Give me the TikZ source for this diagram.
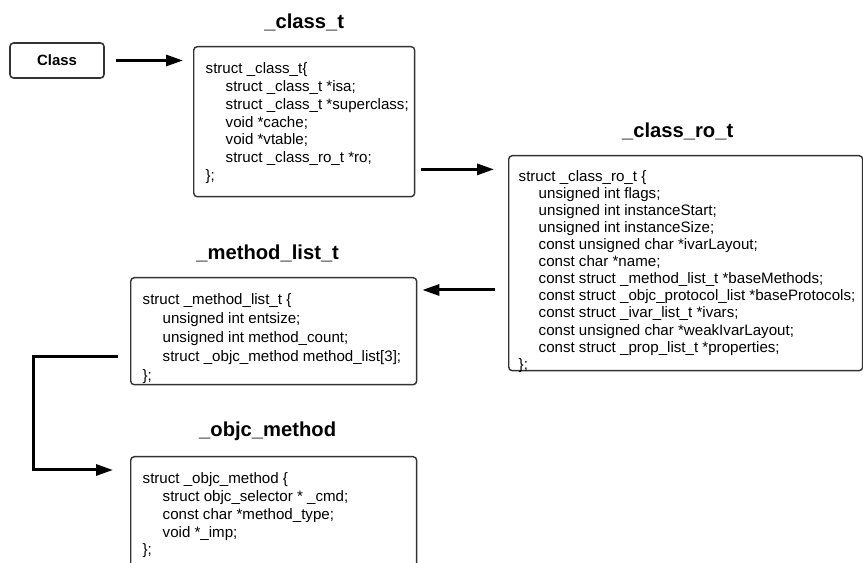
\documentclass[tikz,border=0pt]{standalone}
\usepackage{fontspec}
\setmainfont{Liberation Sans}
\usetikzlibrary{positioning,arrows.meta}

\tikzset{
    structbox/.style={draw=black!80, line width=0.8pt, rounded corners=2pt, anchor=north west,
        inner xsep=0.24cm, inner ysep=0.28cm, font=\fontsize{8.6}{10.2}\selectfont},
    structname/.style={inner sep=0pt, font=\fontsize{11.5}{13}\selectfont\bfseries},
    link/.style={line width=1.7pt, -{Triangle[length=0.34cm,width=0.22cm]}},
}
% fixed-size body of a struct box, lines kept on one row each
\newcommand{\fields}[3]{\parbox[c][#1][t]{#2}{\begin{tabular}{@{}l@{}}#3\end{tabular}}}
\newcommand{\fieldind}{\hspace*{0.4cm}}

\begin{document}
\begin{tikzpicture}[x=0.02cm, y=-0.02cm]
    \useasboundingbox (0,0) rectangle (863,563);

    % Nodes
    \node[draw=black!80, line width=0.9pt, rounded corners=2pt, minimum width=1.88cm, minimum height=0.7cm,
        font=\fontsize{8.5}{10}\selectfont\bfseries] (cls) at (57,60.5) {Class}; %
    \node[structbox] (classt) at (193,46) {\fields{2.44cm}{3.94cm}{%
        struct \_class\_t\{\\
        \fieldind struct \_class\_t *isa;\\
        \fieldind struct \_class\_t *superclass;\\
        \fieldind void *cache;\\
        \fieldind void *vtable;\\
        \fieldind struct \_class\_ro\_t *ro;\\
        \};}}; %
    \node[structbox, inner xsep=0.2cm, font=\fontsize{8.6}{9.7}\selectfont] (classro) at (508,155) {\fields{3.74cm}{6.68cm}{%
        struct \_class\_ro\_t \{\\
        \fieldind unsigned int flags;\\
        \fieldind unsigned int instanceStart;\\
        \fieldind unsigned int instanceSize;\\
        \fieldind const unsigned char *ivarLayout;\\
        \fieldind const char *name;\\
        \fieldind const struct \_method\_list\_t *baseMethods;\\
        \fieldind const struct \_objc\_protocol\_list *baseProtocols;\\
        \fieldind const struct \_ivar\_list\_t *ivars;\\
        \fieldind const unsigned char *weakIvarLayout;\\
        \fieldind const struct \_prop\_list\_t *properties;\\
        \};}}; %
    \node[structbox, font=\fontsize{8.6}{10.8}\selectfont] (methodlist) at (130,277) {\fields{1.58cm}{5.24cm}{%
        struct \_method\_list\_t \{\\
        \fieldind unsigned int entsize;\\
        \fieldind unsigned int method\_count;\\
        \fieldind struct \_objc\_method method\_list[3];\\
        \};}}; %
    \node[structbox] (objcmethod) at (130,456) {\fields{1.94cm}{5.24cm}{%
        struct \_objc\_method \{\\
        \fieldind struct objc\_selector * \_cmd;\\
        \fieldind const char *method\_type;\\
        \fieldind void *\_imp;\\
        \};}}; %

    % Titles
    \node[structname, above=0.3cm of classt] (classttitle) {\_class\_t}; %
    \node[structname, above=0.3cm of classro, xshift=-0.16cm] (classrotitle) {\_class\_ro\_t}; %
    \node[structname, above=0.3cm of methodlist, xshift=-0.12cm] (methodlisttitle) {\_method\_list\_t}; %
    \node[structname, above=0.3cm of objcmethod, xshift=-0.12cm] (objcmethodtitle) {\_objc\_method}; %

    % Edges
    \coordinate (roin) at ([yshift=0.56cm]classt.south east); %
    \coordinate (mlin) at ([yshift=-0.26cm]methodlist.north east); %
    \coordinate (mout) at ([yshift=0.58cm]methodlist.south west); %
    \coordinate (omin) at ([yshift=-0.28cm]objcmethod.north west); %
    \draw[link, shorten <=0.22cm, shorten >=0.2cm] (cls.east) -- (cls.east -| classt.west); %
    \draw[link, shorten <=0.12cm, shorten >=0.28cm] (roin) -- (roin -| classro.west); %
    \draw[link, shorten <=0.26cm, shorten >=0.1cm] (mlin -| classro.west) -- (mlin); %
    \draw[link, shorten <=0.24cm, shorten >=0.34cm] (mout) -- ++(-1.94cm,0) |- (omin); %
\end{tikzpicture}
\end{document}
